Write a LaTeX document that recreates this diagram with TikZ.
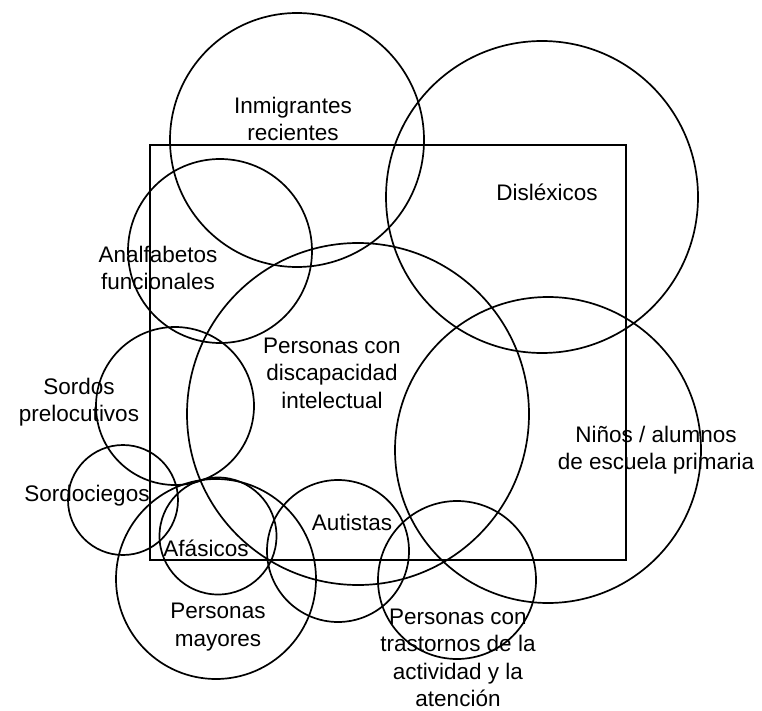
\documentclass[tikz,border=0pt]{standalone}
\usepackage{fontspec}
\setmainfont{Liberation Sans}
\begin{document}
\begin{tikzpicture}[x=1pt,y=-1pt,
  ring/.style={draw=black,line width=1.7pt,circle,inner sep=0pt,outer sep=0pt},
  lab/.style={align=center,inner sep=0pt,font=\fontsize{22.5}{27.5}\selectfont}]
\useasboundingbox (0,0) rectangle (762,711);
\draw[line width=1.7pt] (150,145) rectangle (626,560);
% circles
\node[ring,minimum size=254pt] (imm) at (297,140) {};
\node[ring,minimum size=312pt] (dis) at (542,197) {};
\node[ring,minimum size=184pt] (ana) at (220,251) {};
\node[ring,minimum size=342pt] (dint) at (358,414) {};
\node[ring,minimum size=306pt] (nin) at (548,450) {};
\node[ring,minimum size=158pt] (sor) at (175,406) {};
\node[ring,minimum size=110pt] (sci) at (123,500) {};
\node[ring,minimum size=117pt] (afa) at (218,536) {};
\node[ring,minimum size=200pt] (may) at (216,579) {};
\node[ring,minimum size=142pt] (aut) at (338,551) {};
\node[ring,minimum size=158pt] (tda) at (457,580) {};
% labels
\node[lab] (limm) at (293,119) {Inmigrantes\\recientes};
\node[lab] (ldis) at (547,192) {Disléxicos};
\node[lab] (lana) at (158,268) {Analfabetos\\funcionales};
\node[lab] (ldint) at (332,373) {Personas con\\discapacidad\\intelectual};
\node[lab] (lsor) at (79,402) {Sordos\\prelocutivos};
\node[lab] (lsci) at (87,496) {Sordociegos};
\node[lab] (lafa) at (206,548) {Afásicos};
\node[lab] (lmay) at (218,627) {Personas\\mayores};
\node[lab] (laut) at (352,522) {Autistas};
\node[lab] (lnin) at (656,450) {Niños / alumnos\\de escuela primaria};
\node[lab] (ltda) at (458,658) {Personas con\\trastornos de la\\actividad y la\\atención};
\end{tikzpicture}
\end{document}
